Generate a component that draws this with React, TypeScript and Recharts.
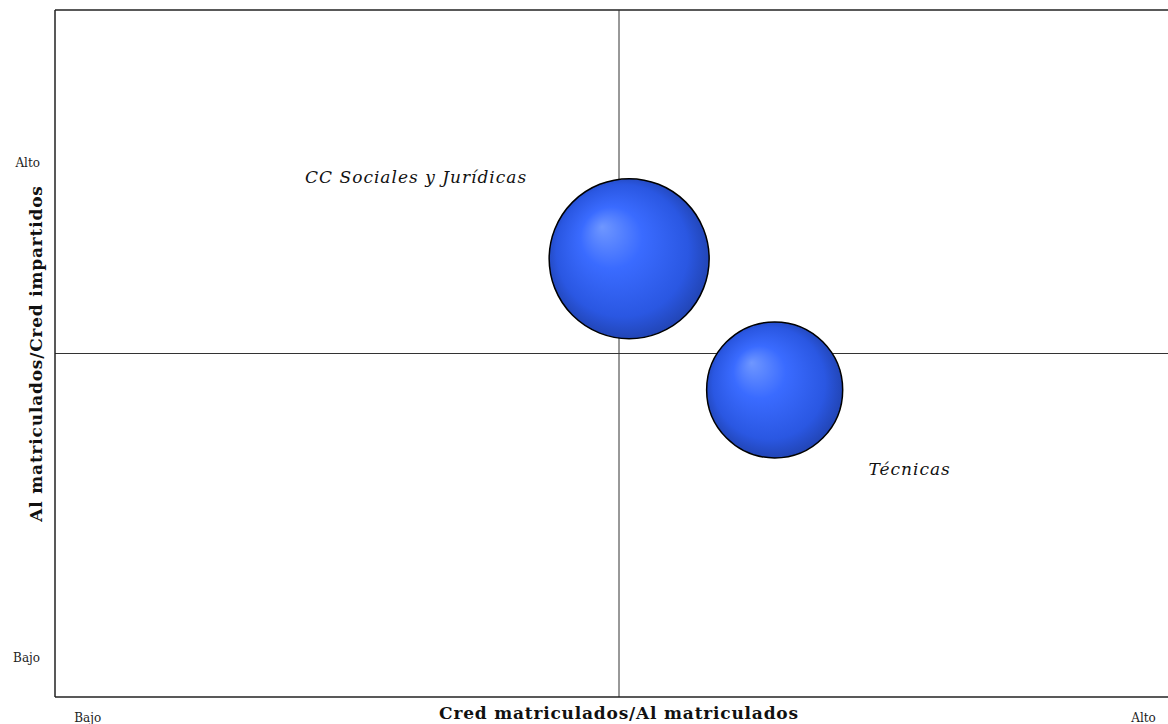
import React from "react";
import {
  ScatterChart,
  Scatter,
  XAxis,
  YAxis,
  ZAxis,
  ReferenceLine,
  LabelList,
} from "recharts";

// ramas de conocimiento
const ramas = ["CC Sociales y Jurídicas", "Técnicas"];
const credPorAlumno = [50.9, 63.8];
const alumnosPorCred = [63.8, 44.7];
const tamano = [1000, 723];

const xTicks = [2.9, 96.5];
const yTicks = [5.7, 77.7];
const tickLabels = ["Bajo", "Alto"];

const data = ramas.map((r, i) => ({
  name: r,
  x: credPorAlumno[i],
  y: alumnosPorCred[i],
  z: tamano[i],
}));

const FONT = "'DejaVu Serif', serif";

const labelOffset: Record<string, { dx: number; dy: number }> = {
  "CC Sociales y Jurídicas": { dx: -213, dy: -82 },
  Técnicas: { dx: 135, dy: 79 },
};

const renderLabel = (props: any) => {
  const { x, y, width, height, value } = props;
  const off = labelOffset[value] || { dx: 0, dy: 0 };
  const cx = x + width / 2 + off.dx;
  const cy = y + height / 2 + off.dy;
  return (
    <text
      x={cx}
      y={cy}
      textAnchor="middle"
      dominantBaseline="central"
      fontStyle="italic"
      fontSize={17}
      letterSpacing={1}
      fontFamily={FONT}
      fill="#111"
    >
      {value}
    </text>
  );
};

export default function App() {
  return (
    <div
      style={{
        position: "absolute",
        left: 0,
        top: 0,
        width: 1168,
        height: 724,
        overflow: "hidden",
        background: "#fff",
      }}
    >
      <ScatterChart
        width={1183}
        height={724}
        margin={{ top: 10, right: 0, bottom: 0, left: 0 }}
      >
        <defs>
          <radialGradient id="bola" cx="0.5" cy="0.5" r="0.55" fx="0.33" fy="0.3">
            <stop offset="0%" stopColor="#6f97ff" />
            <stop offset="35%" stopColor="#3a6bff" />
            <stop offset="75%" stopColor="#2a57e2" />
            <stop offset="100%" stopColor="#1f3fa6" />
          </radialGradient>
        </defs>
        <XAxis
          type="number"
          dataKey="x"
          domain={[0, 100]}
          ticks={xTicks}
          tickFormatter={(v: number) => (v < 50 ? tickLabels[0] : tickLabels[1])}
          tickLine={false}
          axisLine={{ stroke: "#222", strokeWidth: 1.5 }}
          height={27}
          tick={{ fontSize: 12, fontFamily: FONT, fill: "#222", dy: 8 }}
          label={{
            value: "Cred matriculados/Al matriculados",
            position: "insideBottom",
            offset: 0,
            dy: -5,
            dx: 0,
            style: {
              fontSize: 17,
              letterSpacing: 0.8,
              fontWeight: "bold",
              fontFamily: FONT,
              fill: "#111",
            },
          }}
        />
        <YAxis
          type="number"
          dataKey="y"
          domain={[0, 100]}
          ticks={yTicks}
          tickFormatter={(v: number) => (v < 50 ? tickLabels[0] : tickLabels[1])}
          tickLine={false}
          axisLine={{ stroke: "#222", strokeWidth: 1.5 }}
          width={55}
          tick={{ fontSize: 12, fontFamily: FONT, fill: "#222", dx: -7 }}
          label={{
            value: "Al matriculados/Cred impartidos",
            angle: -90,
            position: "insideLeft",
            offset: 0,
            dx: 36,
            style: {
              fontSize: 17,
              letterSpacing: 0.8,
              fontWeight: "bold",
              fontFamily: FONT,
              fill: "#111",
              textAnchor: "middle",
            },
          }}
        />
        <ZAxis type="number" dataKey="z" domain={[0, 1000]} range={[0, 20106]} />
        <ReferenceLine y={100} stroke="#222" strokeWidth={1.5} />
        <ReferenceLine x={100} stroke="#222" strokeWidth={1.5} />
        <ReferenceLine x={50} stroke="#333" strokeWidth={1} />
        <ReferenceLine y={50} stroke="#333" strokeWidth={1} />
        <Scatter
          data={data}
          fill="url(#bola)"
          stroke="#000"
          strokeWidth={1.5}
          isAnimationActive={false}
        >
          <LabelList dataKey="name" content={renderLabel} />
        </Scatter>
      </ScatterChart>
    </div>
  );
}
